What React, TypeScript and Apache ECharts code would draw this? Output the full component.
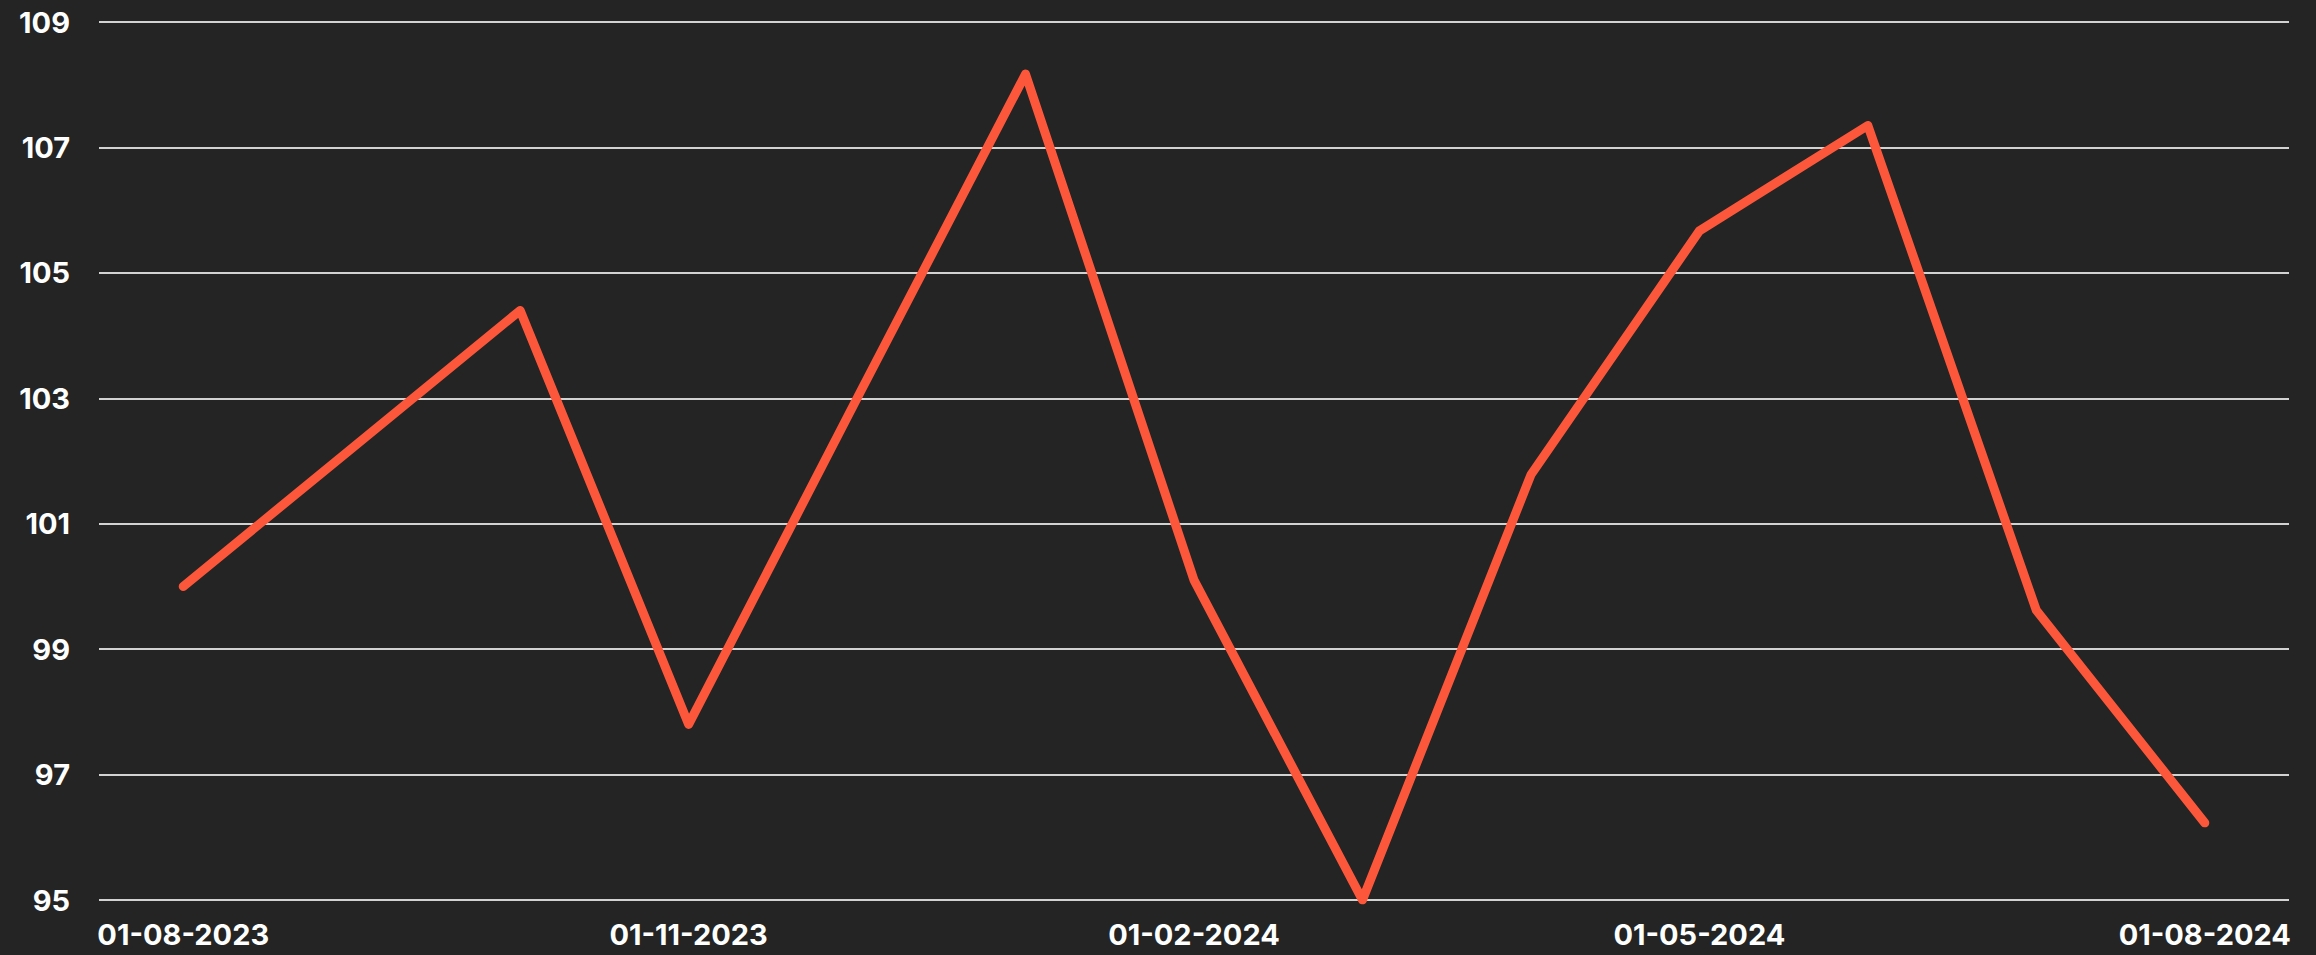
import React, { useEffect, useRef } from "react";
import * as echarts from "echarts";

const categories: string[] = [
  "01-08-2023",
  "01-09-2023",
  "01-10-2023",
  "01-11-2023",
  "01-12-2023",
  "01-01-2024",
  "01-02-2024",
  "01-03-2024",
  "01-04-2024",
  "01-05-2024",
  "01-06-2024",
  "01-07-2024",
  "01-08-2024",
];

const values: number[] = [
  100.0, 102.2, 104.4, 97.8, 103.0, 108.17, 100.1, 95.0, 101.78, 105.67, 107.35, 99.62, 96.23,
];

const yMin = 95;
const yMax = 109;
const yStep = 2;

export default function App() {
  const ref = useRef<HTMLDivElement>(null);

  useEffect(() => {
    document.body.style.margin = "0";
    document.body.style.background = "#232423";
    if (!ref.current) return;
    const chart = echarts.init(ref.current, null, { renderer: "svg" });
    chart.setOption({
      animation: false,
      backgroundColor: "#232423",
      grid: { left: 99, right: 27, top: 22, bottom: 55, containLabel: false },
      xAxis: {
        type: "category",
        data: categories,
        boundaryGap: true,
        axisLine: { show: false },
        axisTick: { show: false },
        splitLine: { show: false },
        axisLabel: {
          interval: 2,
          color: "#ffffff",
          fontFamily: "Inter",
          fontSize: 29,
          fontWeight: "bold",
          margin: 20,
        },
      },
      yAxis: {
        type: "value",
        min: yMin,
        max: yMax,
        interval: yStep,
        axisLine: { show: false },
        axisTick: { show: false },
        splitLine: { show: true, lineStyle: { color: "#d2d2d2", width: 2 } },
        axisLabel: {
          color: "#ffffff",
          fontFamily: "Inter",
          fontSize: 29,
          fontWeight: "bold",
          margin: 29,
        },
      },
      series: [
        {
          type: "line",
          data: values,
          showSymbol: false,
          symbol: "none",
          lineStyle: { color: "#fd573b", width: 9, cap: "round", join: "round" },
        },
      ],
    });
    return () => chart.dispose();
  }, []);

  return <div ref={ref} style={{ width: 2316, height: 955 }} />;
}
